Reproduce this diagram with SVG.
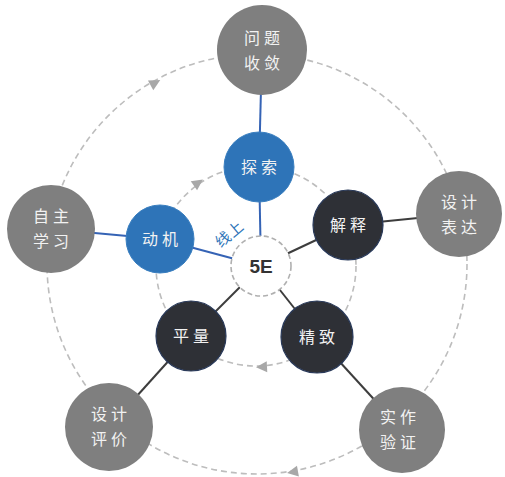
<svg xmlns="http://www.w3.org/2000/svg" width="505" height="477" viewBox="0 0 505 477">
<style>
.ring{fill:none;stroke:#bdbdbd;stroke-width:1.6;stroke-dasharray:6 4}
.outer{fill:#7f7f7f}
.blue{fill:#2e74b8;stroke:#3a7fc0;stroke-width:1}
.dark{fill:#2e3036;stroke:#2a3a5a;stroke-width:1.2}
.lbl{font-family:"Noto Sans CJK SC","Noto Sans CJK JP",sans-serif;font-size:16px;fill:#f2f2f2;text-anchor:middle;letter-spacing:4px}
.bl{stroke:#3563b5;stroke-width:2;fill:none}
.dl{stroke:#3d3d3d;stroke-width:2;fill:none}
</style>
<defs>
<path id="ah" d="M6,0 L-5,-5.5 L-5,5.5 Z" fill="#a8a8a8"/>
</defs>
<rect width="505" height="477" fill="#ffffff"/>
<g id="rings">
<circle class="ring" cx="257" cy="264" r="210"/>
<circle class="ring" cx="256" cy="266" r="100"/>
<use href="#ah" transform="translate(155,83) rotate(-29)"/>
<use href="#ah" transform="translate(293,472) rotate(170)"/>
<use href="#ah" transform="translate(198,183) rotate(-35)"/>
<use href="#ah" transform="translate(262,367) rotate(177)"/>
</g>
<g id="connectors">
<line class="bl" x1="262" y1="50" x2="259" y2="167"/>
<line class="bl" x1="259" y1="167" x2="261" y2="266"/>
<line class="bl" x1="51" y1="229" x2="160" y2="239"/>
<line class="bl" x1="160" y1="239" x2="261" y2="266"/>
<line class="dl" x1="348" y1="225" x2="458" y2="214"/>
<line class="dl" x1="261" y1="266" x2="348" y2="225"/>
<line class="dl" x1="191" y1="336" x2="261" y2="266"/>
<line class="dl" x1="109" y1="427" x2="191" y2="336"/>
<line class="dl" x1="317" y1="337" x2="261" y2="266"/>
<line class="dl" x1="317" y1="337" x2="402" y2="430"/>
</g>
<g id="n-wenti"><circle class="outer" cx="262" cy="50" r="45"/><text class="lbl" x="264" y="44">问题</text><text class="lbl" x="264" y="69">收敛</text></g>
<g id="n-sheji-biaoda"><circle class="outer" cx="459" cy="214" r="43"/><text class="lbl" x="461" y="208">设计</text><text class="lbl" x="461" y="233">表达</text></g>
<g id="n-zizhu"><circle class="outer" cx="51" cy="229" r="44"/><text class="lbl" x="53" y="222">自主</text><text class="lbl" x="53" y="247">学习</text></g>
<g id="n-sheji-pingjia"><circle class="outer" cx="109" cy="427" r="44"/><text class="lbl" x="111" y="420">设计</text><text class="lbl" x="111" y="445">评价</text></g>
<g id="n-shizuo"><circle class="outer" cx="402" cy="430" r="43"/><text class="lbl" x="400" y="423">实作</text><text class="lbl" x="400" y="448">验证</text></g>
<g id="n-tansuo"><circle class="blue" cx="259" cy="167" r="35"/><text class="lbl" x="261" y="173">探索</text></g>
<g id="n-dongji"><circle class="blue" cx="160" cy="239" r="34"/><text class="lbl" x="162" y="245">动机</text></g>
<g id="n-jieshi"><circle class="dark" cx="348" cy="225" r="35"/><text class="lbl" x="350" y="231">解释</text></g>
<g id="n-pingliang"><circle class="dark" cx="191" cy="336" r="35"/><text class="lbl" x="193" y="342">平量</text></g>
<g id="n-jingzhi"><circle class="dark" cx="317" cy="337" r="36"/><text class="lbl" x="319" y="343">精致</text></g>
<g id="n-5e"><circle cx="261" cy="266" r="30" fill="#ffffff" stroke="#b0b0b0" stroke-width="1.6" stroke-dasharray="5 3"/><text x="261" y="273" font-family="'Liberation Sans',Arial,sans-serif" font-weight="bold" font-size="19" fill="#333" text-anchor="middle">5E</text></g>
<text x="0" y="0" transform="translate(233,238) rotate(-40)" font-family="'Noto Sans CJK SC',sans-serif" font-size="15" fill="#2e74b8" text-anchor="middle" letter-spacing="1">线上</text>
</svg>
